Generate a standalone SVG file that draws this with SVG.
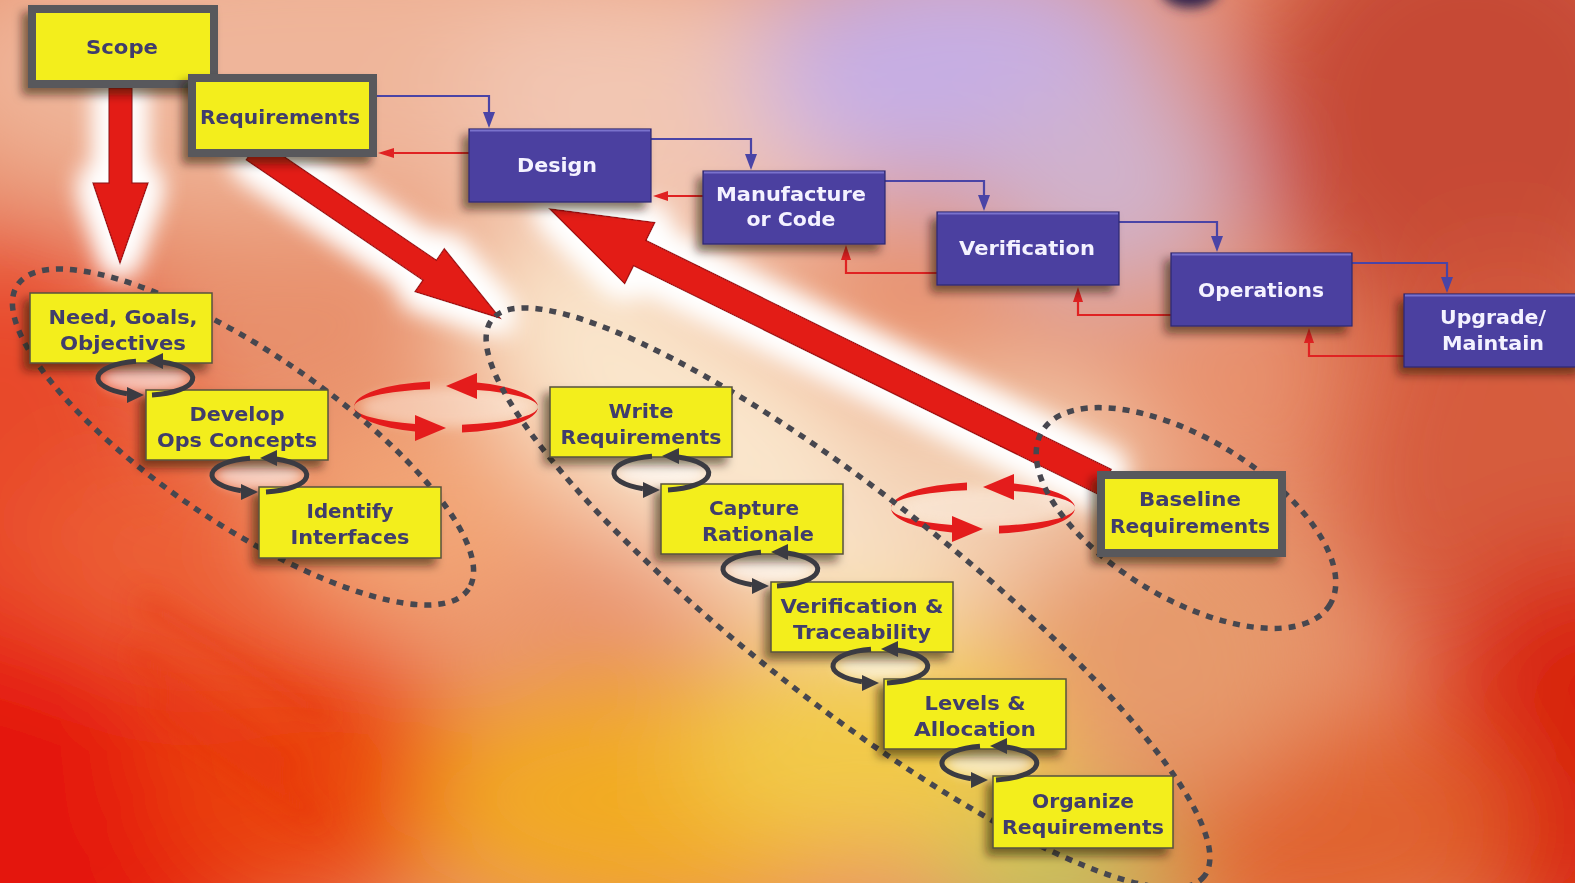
<svg xmlns="http://www.w3.org/2000/svg" xmlns:xlink="http://www.w3.org/1999/xlink" width="1575" height="883" viewBox="0 0 1575 883">
  <defs>
    <style>
      .yt { font-family: "DejaVu Sans", "Liberation Sans", sans-serif; font-weight: bold; font-size: 20px; fill: #3f3c6c; text-anchor: middle; }
      .bt { font-family: "DejaVu Sans", "Liberation Sans", sans-serif; font-weight: bold; font-size: 20px; fill: #f4f2ff; text-anchor: middle; }
      .ybox { fill: #f3ee1e; stroke: #57523c; stroke-width: 1.5; }
      .ybig { fill: #f3ee1e; stroke: #58585c; stroke-width: 8; }
      .bbox { fill: #4b3fa0; stroke: #2e2770; stroke-width: 1.2; }
      .bhi { stroke: #7a72cc; stroke-width: 2; }
      .loop { fill: none; stroke: #47474f; stroke-width: 5.5; stroke-dasharray: 7 7; }
      .fwd { fill: none; stroke: #4a44a6; stroke-width: 2.2; }
      .fwdh { fill: #4a44a6; }
      .back { fill: none; stroke: #e02222; stroke-width: 2.2; }
      .backh { fill: #e02222; }
      .big { fill: #e31c18; stroke: #a81010; stroke-width: 1.5; stroke-linejoin: miter; }
      .gc { fill: none; stroke: #3b3b42; stroke-width: 5; }
      .gch { fill: #3b3b42; }
      .rc { fill: #e41c1c; }
    </style>
    <filter id="soft" x="-10%" y="-10%" width="120%" height="120%">
      <feGaussianBlur stdDeviation="55"/>
    </filter>
    <filter id="blur6" x="-50%" y="-50%" width="200%" height="200%">
      <feGaussianBlur stdDeviation="6"/>
    </filter>
    <filter id="blur14" x="-50%" y="-50%" width="200%" height="200%">
      <feGaussianBlur stdDeviation="14"/>
    </filter>
    <filter id="halo" x="-40%" y="-40%" width="180%" height="180%">
      <feMorphology in="SourceAlpha" operator="dilate" radius="10" result="d"/>
      <feGaussianBlur in="d" stdDeviation="13" result="b"/>
      <feFlood flood-color="#ffffff" flood-opacity="1"/>
      <feComposite in2="b" operator="in" result="g"/>
      <feMerge><feMergeNode in="g"/><feMergeNode in="g"/><feMergeNode in="SourceGraphic"/></feMerge>
    </filter>
    <filter id="shadow" x="-25%" y="-30%" width="150%" height="170%">
      <feGaussianBlur in="SourceAlpha" stdDeviation="5"/>
      <feOffset dx="-6" dy="7" result="o"/>
      <feFlood flood-color="#20140a" flood-opacity="0.55"/>
      <feComposite in2="o" operator="in" result="s"/>
      <feMerge><feMergeNode in="s"/><feMergeNode in="SourceGraphic"/></feMerge>
    </filter>

    <!-- small grey iteration loop, centred on 0,0 -->
    <g id="gcyc">
      <path class="gc" d="M7,16.9 A47 17 0 0 0 17,-15.9"/>
      <polygon class="gch" points="1,-17 18,-25 18,-9"/>
      <path class="gc" d="M-9,-16.7 A47 17 0 0 0 -18,15.7"/>
      <polygon class="gch" points="-1,17 -18,9 -18,25"/>
    </g>
    <ellipse id="gglow" rx="44" ry="15" fill="#ffffff" opacity="0.6" filter="url(#blur6)"/>

    <!-- large red iteration loop, centred on 0,0 -->
    <g id="rcyc">
      <ellipse rx="85" ry="20" fill="#fff6ec" opacity="0.45" filter="url(#blur6)"/>
      <path class="rc" d="M-92,0 A92 26 0 0 1 -16,-25.6 L-16,-17.7 A92 18 0 0 0 -92,0 Z"/>
      <polygon class="rc" points="0,-21 31,-34 31,-8"/>
      <path class="rc" d="M31,-24.5 A92 26 0 0 1 92,0 A92 18 0 0 0 31,-16.9 Z"/>
      <path class="rc" d="M-92,0 A92 26 0 0 0 -31,24.5 L-31,16.9 A92 18 0 0 1 -92,0 Z"/>
      <polygon class="rc" points="0,21 -31,8 -31,34"/>
      <path class="rc" d="M16,25.6 A92 26 0 0 0 92,0 A92 18 0 0 1 16,17.7 Z"/>
    </g>
  </defs>

  <!-- airbrushed backdrop -->
  <rect x="0" y="0" width="1575" height="883" fill="#e8906c"/>
  <g filter="url(#soft)">
    <ellipse cx="330" cy="70" rx="420" ry="150" fill="#efb59a"/>
    <ellipse cx="700" cy="110" rx="250" ry="140" fill="#f2c6b2"/>
    <ellipse cx="960" cy="70" rx="210" ry="130" fill="#c6aee4"/>
    <ellipse cx="1110" cy="190" rx="130" ry="110" fill="#d0b2cc"/>
    <ellipse cx="1470" cy="110" rx="230" ry="230" fill="#c64a36"/>
    <ellipse cx="1520" cy="470" rx="190" ry="210" fill="#d65c3c"/>
    <ellipse cx="1580" cy="760" rx="150" ry="210" fill="#d8220e"/>
    <ellipse cx="1320" cy="830" rx="200" ry="120" fill="#e0622e"/>
    <ellipse cx="40" cy="740" rx="270" ry="290" fill="#e4140a"/>
    <ellipse cx="0" cy="430" rx="170" ry="200" fill="#e84a2a"/>
    <ellipse cx="300" cy="770" rx="150" ry="150" fill="#ea4210"/>
    <ellipse cx="190" cy="560" rx="160" ry="110" fill="#ec5e34"/>
    <ellipse cx="420" cy="520" rx="150" ry="110" fill="#f2a474"/>
    <ellipse cx="720" cy="440" rx="320" ry="130" transform="rotate(35 720 440)" fill="#fae6cc"/>
    <ellipse cx="1000" cy="470" rx="160" ry="100" fill="#f3d0b4"/>
    <ellipse cx="640" cy="800" rx="220" ry="120" fill="#f2aa22"/>
    <ellipse cx="880" cy="740" rx="200" ry="120" fill="#f2ca4a"/>
    <ellipse cx="1060" cy="880" rx="120" ry="60" fill="#bcc85a"/>
    <ellipse cx="1170" cy="650" rx="150" ry="150" fill="#e69a6c"/>
  </g>
  <!-- streaks and top blob in the backdrop -->
  <g opacity="0.5" filter="url(#blur14)" stroke="#e42c10" stroke-width="16" fill="none">
    <path d="M140,600 L330,720"/>
    <path d="M130,650 L300,770"/>
    <path d="M150,700 L320,820"/>
  </g>
  <ellipse cx="1190" cy="-12" rx="30" ry="20" fill="#35264e" filter="url(#blur6)"/>

  <!-- broad flow arrows with glow -->
  <g id="flow-arrows" filter="url(#halo)">
    <polygon class="big" points="109,88 132,88 132,183 148,183 120,263 93,183 109,183"/>
    <polygon class="big" points="259.7,140.1 436.4,260.3 444.3,248.7 500,318 415.1,291.7 423,280.1 246.3,159.9"/>
    <polygon class="big" points="550,209 654.7,222.6 645.9,240.5 1111.2,469.4 1098.8,494.6 633.5,265.7 624.7,283.6"/>
  </g>

  <!-- red iteration loops between phases -->
  <use href="#rcyc" x="446" y="407"/>
  <use href="#rcyc" x="983" y="508"/>

  <!-- soft light behind the grey loops -->
  <use href="#gglow" x="145" y="378"/>
  <use href="#gglow" x="259" y="475"/>
  <use href="#gglow" x="661" y="473"/>
  <use href="#gglow" x="770" y="569"/>
  <use href="#gglow" x="880" y="666"/>
  <use href="#gglow" x="989" y="763"/>

  <!-- dotted phase outlines -->
  <g id="phase-outlines">
    <ellipse class="loop" cx="243" cy="437" rx="272" ry="86" transform="rotate(34 243 437)"/>
    <ellipse class="loop" cx="848" cy="598" rx="452" ry="104" transform="rotate(38 848 598)"/>
    <ellipse class="loop" cx="1186" cy="518" rx="168" ry="80" transform="rotate(31 1186 518)"/>
  </g>

  <!-- waterfall connectors -->
  <g id="connectors">
    <path class="fwd" d="M375,96 H489 V113"/>
    <polygon class="fwdh" points="483,112 495,112 489,128"/>
    <path class="fwd" d="M651,139 H751 V155"/>
    <polygon class="fwdh" points="745,154 757,154 751,170"/>
    <path class="fwd" d="M885,181 H984 V196"/>
    <polygon class="fwdh" points="978,195 990,195 984,211"/>
    <path class="fwd" d="M1119,222 H1217 V237"/>
    <polygon class="fwdh" points="1211,236 1223,236 1217,252"/>
    <path class="fwd" d="M1352,263 H1447 V278"/>
    <polygon class="fwdh" points="1441,277 1453,277 1447,293"/>

    <path class="back" d="M469,153 H392"/>
    <polygon class="backh" points="394,148 394,158 378,153"/>
    <path class="back" d="M703,196 H667"/>
    <polygon class="backh" points="668,191 668,201 653,196"/>
    <path class="back" d="M937,273 H846 V259"/>
    <polygon class="backh" points="841,260 851,260 846,245"/>
    <path class="back" d="M1171,315 H1078 V301"/>
    <polygon class="backh" points="1073,302 1083,302 1078,287"/>
    <path class="back" d="M1404,356 H1309 V342"/>
    <polygon class="backh" points="1304,343 1314,343 1309,328"/>
  </g>

  <!-- waterfall phases -->
  <g id="scope" filter="url(#shadow)">
    <rect class="ybig" x="32" y="9" width="182" height="75"/>
    <text class="yt" x="122" y="54" textLength="72" lengthAdjust="spacingAndGlyphs">Scope</text>
  </g>
  <g id="requirements" filter="url(#shadow)">
    <rect class="ybig" x="192" y="78" width="181" height="75"/>
    <text class="yt" x="280" y="124" textLength="160" lengthAdjust="spacingAndGlyphs">Requirements</text>
  </g>
  <g id="design" filter="url(#shadow)">
    <rect class="bbox" x="469" y="129" width="182" height="73"/>
    <line class="bhi" x1="470" y1="130.5" x2="650" y2="130.5"/>
    <text class="bt" x="557" y="172" textLength="80" lengthAdjust="spacingAndGlyphs">Design</text>
  </g>
  <g id="manufacture" filter="url(#shadow)">
    <rect class="bbox" x="703" y="171" width="182" height="73"/>
    <line class="bhi" x1="704" y1="172.5" x2="884" y2="172.5"/>
    <text class="bt" x="791" y="201" textLength="150" lengthAdjust="spacingAndGlyphs">Manufacture</text>
    <text class="bt" x="791" y="226" textLength="89" lengthAdjust="spacingAndGlyphs">or Code</text>
  </g>
  <g id="verification" filter="url(#shadow)">
    <rect class="bbox" x="937" y="212" width="182" height="73"/>
    <line class="bhi" x1="938" y1="213.5" x2="1118" y2="213.5"/>
    <text class="bt" x="1027" y="255" textLength="136" lengthAdjust="spacingAndGlyphs">Verification</text>
  </g>
  <g id="operations" filter="url(#shadow)">
    <rect class="bbox" x="1171" y="253" width="181" height="73"/>
    <line class="bhi" x1="1172" y1="254.5" x2="1351" y2="254.5"/>
    <text class="bt" x="1261" y="297" textLength="126" lengthAdjust="spacingAndGlyphs">Operations</text>
  </g>
  <g id="upgrade" filter="url(#shadow)">
    <rect class="bbox" x="1404" y="294" width="180" height="73"/>
    <line class="bhi" x1="1405" y1="295.5" x2="1584" y2="295.5"/>
    <text class="bt" x="1493" y="324" textLength="106" lengthAdjust="spacingAndGlyphs">Upgrade/</text>
    <text class="bt" x="1493" y="350" textLength="102" lengthAdjust="spacingAndGlyphs">Maintain</text>
  </g>

  <!-- scope steps -->
  <g id="need" filter="url(#shadow)">
    <rect class="ybox" x="30" y="293" width="182" height="70"/>
    <text class="yt" x="123" y="324" textLength="149" lengthAdjust="spacingAndGlyphs">Need, Goals,</text>
    <text class="yt" x="123" y="350" textLength="126" lengthAdjust="spacingAndGlyphs">Objectives</text>
  </g>
  <g id="ops-concepts" filter="url(#shadow)">
    <rect class="ybox" x="146" y="390" width="182" height="70"/>
    <text class="yt" x="237" y="421" textLength="95" lengthAdjust="spacingAndGlyphs">Develop</text>
    <text class="yt" x="237" y="447" textLength="160" lengthAdjust="spacingAndGlyphs">Ops Concepts</text>
  </g>
  <g id="interfaces" filter="url(#shadow)">
    <rect class="ybox" x="259" y="487" width="182" height="71"/>
    <text class="yt" x="350" y="518" textLength="87" lengthAdjust="spacingAndGlyphs">Identify</text>
    <text class="yt" x="350" y="544" textLength="119" lengthAdjust="spacingAndGlyphs">Interfaces</text>
  </g>

  <!-- requirements steps -->
  <g id="write" filter="url(#shadow)">
    <rect class="ybox" x="550" y="387" width="182" height="70"/>
    <text class="yt" x="641" y="418" textLength="65" lengthAdjust="spacingAndGlyphs">Write</text>
    <text class="yt" x="641" y="444" textLength="161" lengthAdjust="spacingAndGlyphs">Requirements</text>
  </g>
  <g id="rationale" filter="url(#shadow)">
    <rect class="ybox" x="661" y="484" width="182" height="70"/>
    <text class="yt" x="754" y="515" textLength="90" lengthAdjust="spacingAndGlyphs">Capture</text>
    <text class="yt" x="758" y="541" textLength="112" lengthAdjust="spacingAndGlyphs">Rationale</text>
  </g>
  <g id="traceability" filter="url(#shadow)">
    <rect class="ybox" x="771" y="582" width="182" height="70"/>
    <text class="yt" x="862" y="613" textLength="163" lengthAdjust="spacingAndGlyphs">Verification &amp;</text>
    <text class="yt" x="862" y="639" textLength="138" lengthAdjust="spacingAndGlyphs">Traceability</text>
  </g>
  <g id="levels" filter="url(#shadow)">
    <rect class="ybox" x="884" y="679" width="182" height="70"/>
    <text class="yt" x="975" y="710" textLength="101" lengthAdjust="spacingAndGlyphs">Levels &amp;</text>
    <text class="yt" x="975" y="736" textLength="122" lengthAdjust="spacingAndGlyphs">Allocation</text>
  </g>
  <g id="organize" filter="url(#shadow)">
    <rect class="ybox" x="993" y="776" width="180" height="72"/>
    <text class="yt" x="1083" y="808" textLength="102" lengthAdjust="spacingAndGlyphs">Organize</text>
    <text class="yt" x="1083" y="834" textLength="162" lengthAdjust="spacingAndGlyphs">Requirements</text>
  </g>

  <!-- baseline step -->
  <g id="baseline" filter="url(#shadow)">
    <rect class="ybig" x="1101" y="475" width="181" height="78"/>
    <text class="yt" x="1190" y="506" textLength="102" lengthAdjust="spacingAndGlyphs">Baseline</text>
    <text class="yt" x="1190" y="533" textLength="160" lengthAdjust="spacingAndGlyphs">Requirements</text>
  </g>

  <!-- grey iteration loops between steps -->
  <g id="step-loops">
    <use href="#gcyc" x="145" y="378"/>
    <use href="#gcyc" x="259" y="475"/>
    <use href="#gcyc" x="661" y="473"/>
    <use href="#gcyc" x="770" y="569"/>
    <use href="#gcyc" x="880" y="666"/>
    <use href="#gcyc" x="989" y="763"/>
  </g>
</svg>
